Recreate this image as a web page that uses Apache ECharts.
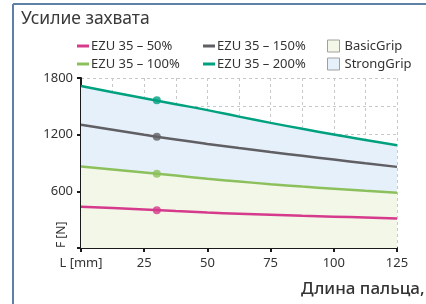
<!DOCTYPE html>
<html>
<head>
    <meta charset="utf-8">
    <title>Усилие захвата</title>
    <script src="https://cdn.jsdelivr.net/npm/echarts@6/dist/echarts.min.js"></script>
    <style>
        html, body { margin: 0; padding: 0; background: #fff; }
    </style>
</head>
<body>
    <div id="main" style="width: 426px;height:304px;"></div>
    <script type="text/javascript">
        // длина пальца, мм
        var fingerLength = [0, 12.5, 25, 37.5, 50, 62.5, 75, 87.5, 100, 112.5, 125];
        var ezu50 = [437, 423, 408, 391, 375, 362, 351, 341, 332, 322, 313];
        var ezu100 = [862, 831, 799, 767, 734, 704, 676, 651, 628, 606, 585];
        var ezu150 = [1304, 1253, 1199, 1148, 1102, 1058, 1016, 976, 936, 897, 859];
        var ezu200 = [1716, 1649, 1585, 1523, 1460, 1391, 1325, 1262, 1202, 1143, 1089];
        // точки при L = 30 мм
        var markX = 30;
        var markValues = [401, 785, 1178, 1564];
        var yTicks = [0, 600, 1200, 1800];

        var names = ['EZU 35 – 50%', 'EZU 35 – 100%', 'EZU 35 – 150%', 'EZU 35 – 200%'];
        var colors = ['#d63a8c', '#8cc05c', '#5f5f64', '#00a17f'];
        var lines = [ezu50, ezu100, ezu150, ezu200];

        function pairs(vals) {
            return fingerLength.map(function (x, i) { return [x, vals[i]]; });
        }

        var chart = echarts.init(document.getElementById('main'));
        var font = 'Noto Sans';

        var series = [
            {
                name: 'StrongGrip', type: 'line', data: pairs(ezu200), smooth: true,
                showSymbol: false, lineStyle: { width: 0 }, itemStyle: { color: '#e6f0fa' },
                areaStyle: { color: '#e6f0fa', opacity: 1 }, z: 1, silent: true
            },
            {
                name: 'BasicGrip', type: 'line', data: pairs(ezu100), smooth: true,
                showSymbol: false, lineStyle: { width: 0 }, itemStyle: { color: '#f3f7e7' },
                areaStyle: { color: '#f3f7e7', opacity: 1 }, z: 2, silent: true
            }
        ];
        lines.forEach(function (vals, i) {
            series.push({
                name: names[i], type: 'line', data: pairs(vals), smooth: true,
                showSymbol: false, z: 3,
                lineStyle: { color: colors[i], width: 2.5 },
                itemStyle: { color: colors[i] }
            });
            series.push({
                type: 'scatter', data: [[markX, markValues[i]]], symbolSize: 8, z: 4,
                itemStyle: { color: colors[i] }
            });
        });

        var legendBase = {
            orient: 'vertical', top: 34, itemGap: 4, itemWidth: 12, itemHeight: 3,
            icon: 'rect', selectedMode: false,
            textStyle: { fontFamily: font, fontSize: 13, color: '#333', lineHeight: 14, padding: [0, 0, 0, -3] }
        };
        function legend(left, data) {
            return Object.assign({}, legendBase, { left: left, data: data });
        }

        var option = {
            animation: false,
            textStyle: { fontFamily: font },
            title: {
                text: 'Усилие захвата', left: 16, top: 5,
                textStyle: { fontFamily: font, fontSize: 17.5, fontWeight: 'normal', color: '#3a3a3a' }
            },
            legend: [
                legend(72, [names[0], names[1]]),
                legend(198, [names[2], names[3]]),
                Object.assign({}, legendBase, {
                    left: 322, itemWidth: 12, itemHeight: 12,
                    data: [
                        { name: 'BasicGrip', itemStyle: { color: '#f3f7e7', borderColor: '#a0a0a0', borderWidth: 1 } },
                        { name: 'StrongGrip', itemStyle: { color: '#e6f0fa', borderColor: '#a0a0a0', borderWidth: 1 } }
                    ],
                    textStyle: { fontFamily: font, fontSize: 13, color: '#333', lineHeight: 14 }
                })
            ],
            grid: { left: 81, right: 29, top: 78, bottom: 56 },
            xAxis: {
                type: 'value', min: 0, max: 125, interval: 25,
                axisLine: { lineStyle: { color: '#1a1a1a', width: 2 } },
                axisTick: { show: true, length: 4, lineStyle: { color: '#1a1a1a', width: 2 } },
                axisLabel: {
                    margin: 9, fontSize: 13, color: '#333', fontFamily: font,
                    formatter: function (v) { return v === 0 ? 'L [mm]' : String(v); }
                },
                splitLine: { show: true, lineStyle: { color: '#c8c8c8', type: [3, 3], width: 1 } },
                minorTick: { show: false, splitNumber: 2 },
                minorSplitLine: { show: true, lineStyle: { color: '#c8c8c8', type: [3, 3], width: 1 } }
            },
            yAxis: {
                type: 'value', min: yTicks[0], max: yTicks[yTicks.length - 1], interval: 600,
                axisLine: { show: true, lineStyle: { color: '#1a1a1a', width: 2 } },
                axisTick: { show: true, length: 4, lineStyle: { color: '#1a1a1a', width: 2 } },
                axisLabel: {
                    margin: 8, fontSize: 13, color: '#333', fontFamily: font,
                    formatter: function (v) { return v === 0 ? '' : String(v); }
                },
                splitLine: { show: true, lineStyle: { color: '#c8c8c8', type: [3, 3], width: 1 } },
                minorTick: { show: false, splitNumber: 2 },
                minorSplitLine: { show: true, lineStyle: { color: '#c8c8c8', type: [3, 3], width: 1 } }
            },
            graphic: [
                { type: 'line', shape: { x1: 13, y1: 4, x2: 426, y2: 4 }, style: { stroke: '#5d82a6', lineWidth: 2 } },
                { type: 'line', shape: { x1: 13, y1: 4, x2: 13, y2: 304 }, style: { stroke: '#5d82a6', lineWidth: 2 } },
                {
                    type: 'text', x: 68, y: 248, rotation: Math.PI / 2,
                    style: { text: 'F [N]', font: '12px "Noto Sans"', fill: '#333', textAlign: 'left', textVerticalAlign: 'bottom' }
                },
                {
                    type: 'text', x: 301, y: 281,
                    style: { text: 'Длина пальца, мм', font: '500 17px "Noto Sans"', fill: '#333' }
                }
            ],
            series: series
        };
        chart.setOption(option);
    </script>
</body>
</html>
